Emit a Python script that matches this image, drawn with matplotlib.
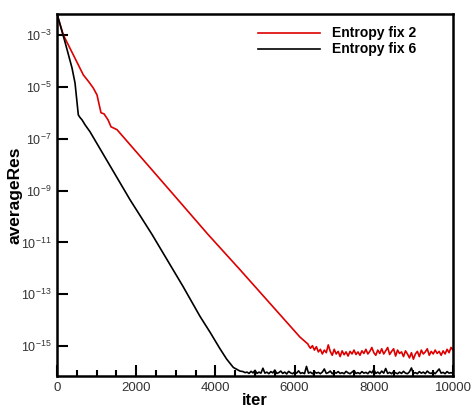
import numpy as np
import matplotlib
matplotlib.use("Agg")
import matplotlib.pyplot as plt
from matplotlib.ticker import FixedLocator, MultipleLocator, NullLocator

plt.rcParams['font.family'] = ['Liberation Sans', 'DejaVu Sans']
plt.rcParams['mathtext.fontset'] = 'custom'
plt.rcParams['mathtext.rm'] = 'Liberation Sans'
plt.rcParams['mathtext.it'] = 'Liberation Sans:italic'
plt.rcParams['mathtext.bf'] = 'Liberation Sans:bold'

# values, stored as log10(averageRes)
red_iter = [0, 33, 160, 413, 665, 800, 918, 1010, 1111, 1187, 1288, 1364, 1515,
            3030, 3813, 4621, 6136, 6338]
red_log = [-2.20, -2.36, -3.00, -3.77, -4.54, -4.80, -5.05, -5.31, -6.00, -6.04,
           -6.27, -6.54, -6.65, -9.31, -10.69, -12.05, -14.65, -14.92]
# noisy plateau, every 50 iterations from 6350 to 10000
red_plateau = [
    -14.97, -15.08, -14.98, -15.15, -15.02, -15.22, -15.12, -15.30, -15.15, -15.25,
    -14.95, -15.20, -15.35, -15.12, -15.30, -15.20, -15.40, -15.18, -15.33, -15.22,
    -15.38, -15.20, -15.30, -15.15, -15.32, -15.22, -15.35, -15.18, -15.28, -15.12,
    -15.30, -15.20, -15.05, -15.25, -15.35, -15.15, -15.28, -15.10, -15.30, -15.18,
    -15.05, -15.32, -15.20, -15.10, -15.38, -15.15, -15.28, -15.22, -15.40, -15.18,
    -15.30, -15.45, -15.25, -15.50, -15.30, -15.20, -15.40, -15.15, -15.30, -15.22,
    -15.10, -15.35, -15.20, -15.30, -15.15, -15.28, -15.20, -15.35, -15.18, -15.30,
    -15.12, -15.25, -15.05, -15.15]

black_iter = [0, 33, 202, 379, 455, 538, 580, 631, 707, 833, 1843, 2399, 3180,
              3611, 3864, 4116, 4285, 4453, 4621]
black_log = [-2.20, -2.36, -3.27, -4.27, -4.85, -6.08, -6.18, -6.27, -6.46, -6.73,
             -9.35, -10.69, -12.69, -13.85, -14.46, -15.10, -15.50, -15.82, -15.96]
# noisy plateau, every 50 iterations from 4700 to 10000
black_plateau = [
    -15.98, -16.02, -16.00, -16.05, -15.97, -16.03, -15.93, -16.05, -16.00, -16.04,
    -15.85, -16.04, -16.00, -16.06, -15.98, -16.03, -15.92, -16.05, -16.02, -15.96,
    -16.05, -16.00, -16.07, -15.97, -16.03, -16.06, -16.00, -16.04, -15.95, -16.05,
    -16.02, -16.06, -15.78, -16.04, -16.00, -16.06, -15.98, -16.04, -16.01, -16.06,
    -16.00, -15.88, -16.05, -16.02, -15.96, -16.06, -16.00, -16.04, -15.98, -16.05,
    -16.02, -16.06, -15.97, -16.03, -16.06, -16.00, -15.94, -16.05, -16.02, -16.06,
    -15.98, -16.04, -16.01, -16.06, -15.97, -16.03, -15.90, -16.05, -16.00, -16.06,
    -15.96, -16.04, -15.86, -16.05, -16.01, -16.06, -15.98, -16.03, -16.06, -16.00,
    -16.05, -15.97, -16.04, -16.06, -15.99, -15.84, -16.05, -16.02, -16.06, -15.98,
    -16.04, -16.00, -16.06, -15.96, -16.03, -16.05, -16.00, -16.06, -15.97, -15.88,
    -16.04, -16.01, -16.06, -15.98, -16.04, -16.02, -16.05]

ytick_exp = [-15, -13, -11, -9, -7, -5, -3]
ytick_labels = [r'$10^{-15}$', r'$10^{-13}$', r'$10^{-11}$', r'$10^{-9}$',
                r'$10^{-7}$', r'$10^{-5}$', r'$10^{-3}$']
xticks = [0, 2000, 4000, 6000, 8000, 10000]

red_x = np.concatenate([red_iter, np.arange(6350, 10001, 50)])
red_y = 10.0 ** np.concatenate([red_log, red_plateau])
black_x = np.concatenate([black_iter, np.arange(4700, 10001, 50)])
black_y = 10.0 ** np.concatenate([black_log, black_plateau])

fig = plt.figure(figsize=(4.75, 4.08), dpi=100)
ax = fig.add_axes([0.12, 0.0784, 0.8337, 0.8873])

ax.plot(red_x, red_y, color='#dd0000', lw=1.2, label='Entropy fix 2')
ax.plot(black_x, black_y, color='black', lw=1.2, label='Entropy fix 6')

ax.set_yscale('log')
ax.set_xlim(0, 10000)
ax.set_ylim(10 ** -16.15, 10 ** -2.19)

ax.yaxis.set_major_locator(FixedLocator([10.0 ** e for e in ytick_exp]))
ax.yaxis.set_minor_locator(NullLocator())
ax.set_yticklabels(ytick_labels)
ax.set_xticks(xticks)
ax.xaxis.set_minor_locator(MultipleLocator(500))

ax.tick_params(which='both', direction='in', width=1.5, colors='black')
ax.tick_params(which='major', length=8, pad=4)
ax.tick_params(which='minor', length=4)
ax.tick_params(axis='x', labelsize=9.5, labelcolor='#333333')
ax.tick_params(axis='y', labelsize=9, labelcolor='#333333')
for s in ax.spines.values():
    s.set_linewidth(1.8)

ax.set_xlabel('iter', fontsize=12, fontweight='bold')
ax.set_ylabel('averageRes', fontsize=12.5, fontweight='bold')
ax.xaxis.set_label_coords(0.5, -0.047)
ax.yaxis.set_label_coords(-0.088, 0.5)

leg = ax.legend(loc='upper left', bbox_to_anchor=(0.49, 0.985), frameon=False,
                prop={'weight': 'bold', 'size': 10}, handlelength=4.5,
                handletextpad=0.8, labelspacing=0.15, borderpad=0)

fig.savefig('out.png', dpi=100)
